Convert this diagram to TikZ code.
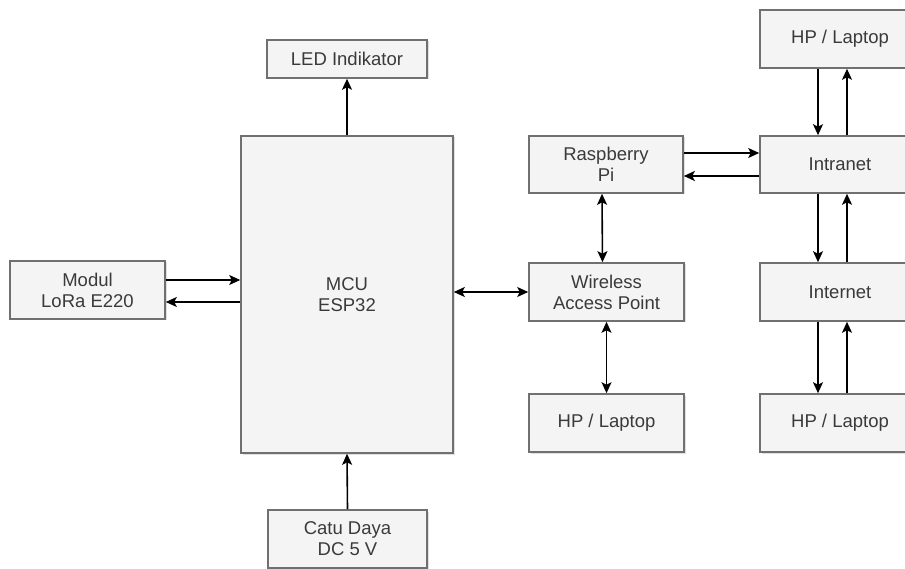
\documentclass[tikz,border=0pt]{standalone}
\usepackage{fontspec}
\setmainfont{Liberation Sans}
\usetikzlibrary{arrows.meta, positioning, shadows}
\definecolor{boxfill}{HTML}{F4F4F4}
\definecolor{boxline}{HTML}{707070}
\definecolor{boxtext}{HTML}{3A3A3A}

\begin{document}
\begin{tikzpicture}[
    x=1pt, y=-1pt,
    every node/.style={draw=boxline, fill=boxfill, line width=1.6pt, inner sep=0pt,
      align=center, text=boxtext, font=\fontsize{18.5}{21}\selectfont,
      drop shadow={opacity=0.25, shadow xshift=1.5pt, shadow yshift=-1.5pt}},
    arrow/.style={-{Stealth[length=11pt, width=10pt, inset=2.5pt]}, line width=1.6pt},
    both/.style={{Stealth[length=11pt, width=10pt, inset=2.5pt]}-{Stealth[length=11pt, width=10pt, inset=2.5pt]}, line width=1.6pt}
  ]
  \path[use as bounding box, clip] (0,0) rectangle (905,569);

  % Controller and its peripherals
  \node (mcu) [minimum width=212pt, minimum height=317pt] at (347,294.5) {MCU\\ESP32};
  \node (modul) [minimum width=155pt, minimum height=58pt] at (87.5,290) {Modul\\LoRa E220};
  \node (led) [minimum width=160pt, minimum height=38pt] at (347,59) {LED Indikator};
  \node (catu) [minimum width=159pt, minimum height=58pt] at (347.5,539) {Catu Daya\\DC 5 V};

  % Local network
  \node (rpi) [minimum width=154pt, minimum height=57pt] at (606,164.5) {Raspberry\\Pi};
  \node (wap) [minimum width=155pt, minimum height=58pt] at (606.5,292) {Wireless\\Access Point};
  \node (hpmid) [minimum width=155pt, minimum height=58pt] at (606.5,423) {HP / Laptop};

  % Right column
  \node (hptop) [minimum width=160pt, minimum height=58pt] at (840,39) {HP / Laptop};
  \node (intra) [minimum width=160pt, minimum height=57pt] at (840,164.5) {Intranet};
  \node (inter) [minimum width=160pt, minimum height=58pt] at (840,292) {Internet};
  \node (hpbot) [minimum width=160pt, minimum height=58pt] at (840,423) {HP / Laptop};

  % Controller links
  \draw[arrow] ([yshift=10pt]modul.east) -- ([yshift=10pt]modul.east -| mcu.west);
  \draw[arrow] ([yshift=-12pt]modul.east -| mcu.west) -- ([yshift=-12pt]modul.east);
  \draw[arrow] (mcu.north) -- (led.south);
  \draw[arrow] (catu.north) -- (mcu.south);
  \draw[both] (mcu.east |- wap.west) -- (wap.west);

  % Local network links
  \draw[both] ([xshift=-4pt]rpi.south) -- ([xshift=-4pt]wap.north);
  \draw[both] (wap.south) -- (hpmid.north);
  \draw[arrow] ([yshift=11.5pt]rpi.east) -- ([yshift=11.5pt]rpi.east -| intra.west);
  \draw[arrow] ([yshift=-11.5pt]rpi.east -| intra.west) -- ([yshift=-11.5pt]rpi.east);

  % Right column links
  \draw[arrow] ([xshift=-22pt]hptop.south) -- ([xshift=-22pt]intra.north);
  \draw[arrow] ([xshift=7pt]intra.north) -- ([xshift=7pt]hptop.south);
  \draw[arrow] ([xshift=-22pt]intra.south) -- ([xshift=-22pt]inter.north);
  \draw[arrow] ([xshift=7pt]inter.north) -- ([xshift=7pt]intra.south);
  \draw[arrow] ([xshift=-22pt]inter.south) -- ([xshift=-22pt]hpbot.north);
  \draw[arrow] ([xshift=7pt]hpbot.north) -- ([xshift=7pt]inter.south);
\end{tikzpicture}
\end{document}
